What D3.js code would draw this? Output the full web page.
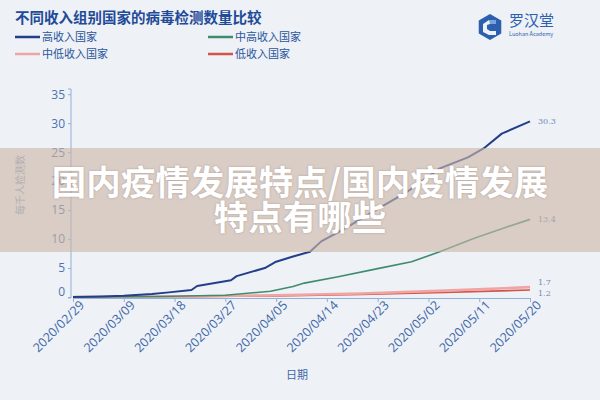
<!DOCTYPE html>
<html><head><meta charset="utf-8">
<script src="https://cdn.jsdelivr.net/npm/d3@7"></script>
<style>
body{margin:0;background:#eef1f6;}
svg{display:block;font-family:"Noto Sans CJK SC","Noto Sans",sans-serif;}
</style></head><body>
<svg id="c" width="600" height="400"></svg>
<script>
const title = "不同收入组别国家的病毒检测数量比较";
const seriesNames = ["高收入国家","中高收入国家","中低收入国家","低收入国家"];
const seriesColors = ["#233f8a","#3f8c6c","#f0a5a5","#d4534a"];
const xTickLabels = ["2020/02/29","2020/03/09","2020/03/18","2020/03/27","2020/04/05","2020/04/14","2020/04/23","2020/05/02","2020/05/11","2020/05/20"];
const yTicks = [0,5,10,15,20,25,30,35];
const highIncome = [["2020-02-29",0.0],["2020-03-05",0.1],["2020-03-09",0.2],["2020-03-14",0.5],["2020-03-17",0.8],["2020-03-21",1.2],["2020-03-22",1.9],["2020-03-28",2.9],["2020-03-29",3.6],["2020-04-03",5.0],["2020-04-05",6.1],["2020-04-08",7.0],["2020-04-11",7.8],["2020-04-13",9.6],["2020-04-17",11.7],["2020-04-23",15.2],["2020-04-28",18.0],["2020-05-04",22.2],["2020-05-09",24.1],["2020-05-12",25.8],["2020-05-15",28.2],["2020-05-20",30.3]];
const upperMiddle = [["2020-02-29",0.0],["2020-03-15",0.1],["2020-03-27",0.3],["2020-04-04",1.0],["2020-04-08",1.8],["2020-04-10",2.4],["2020-04-16",3.5],["2020-04-23",4.9],["2020-04-29",6.1],["2020-05-04",7.8],["2020-05-10",10.1],["2020-05-15",11.8],["2020-05-20",13.4]];
const lowerMiddle = [["2020-02-29",0.0],["2020-03-20",0.1],["2020-04-05",0.3],["2020-04-20",0.6],["2020-05-05",1.1],["2020-05-20",1.7]];
const lowIncome = [["2020-02-29",0.0],["2020-03-20",0.05],["2020-04-05",0.2],["2020-04-20",0.45],["2020-05-05",0.8],["2020-05-20",1.2]];
const endLabels = ["30.3","13.4","1.7","1.2"];
const bannerLines = ["国内疫情发展特点/国内疫情发展","特点有哪些"];
const yTitle = "每千人检测数";
const xTitle = "日期";

const svg = d3.select("#c");
const parse = d3.timeParse("%Y-%m-%d");
const parseTick = d3.timeParse("%Y/%m/%d");
const x = d3.scaleTime().domain([parse("2020-02-29"), parse("2020-05-20")]).range([73,530]);
const y = d3.scaleLinear().domain([-0.17, 35.9]).range([298, 89]);

// title
svg.append("text").attr("x",15).attr("y",23).attr("font-size",14.5).attr("font-weight","bold")
  .attr("fill","#1f4b99").text(title);
// legend
const legPos = [[15,37],[208,37],[15,54],[208,54]];
seriesNames.forEach((n,i)=>{
  const [lx,ly]=legPos[i];
  svg.append("line").attr("x1",lx).attr("x2",lx+25).attr("y1",ly).attr("y2",ly)
    .attr("stroke",seriesColors[i]).attr("stroke-width",2.5);
  svg.append("text").attr("x",lx+27).attr("y",ly+4).attr("font-size",11)
    .attr("fill","#2a569c").text(n);
});
// logo
const lg = svg.append("g").attr("transform","translate(490,27)");
const hex = d3.range(6).map(k=>{const a=Math.PI/3*k+Math.PI/6;return [13*Math.cos(a),13*Math.sin(a)];});
lg.append("path").attr("d","M"+hex.join("L")+"Z").attr("fill","#2c5fae");
lg.append("path").attr("d","M6,-7 L-1,-7 L-7,-3 L-7,5 L-1,8 L6,8 L6,4 L0,4 L-3,2 L-3,-2 L0,-3 L6,-3 Z").attr("fill","#eef1f6");
lg.append("path").attr("d","M-1,-7 L6,-7 L6,-3 L0,-3 Z").attr("fill","#7aa3dc");
svg.append("text").attr("x",509).attr("y",26).attr("font-size",15).attr("fill","#2c5fae").text("罗汉堂");
svg.append("text").attr("x",509).attr("y",36).attr("font-size",5.5).attr("fill","#2c5fae").text("Luohan Academy");

// axes
const axisColor = "#8fb0da";
const yAxis = svg.append("g").attr("transform","translate(71,0)")
  .call(d3.axisLeft(y).tickValues(yTicks).tickSize(3).tickPadding(3));
yAxis.select(".domain").attr("stroke",axisColor).attr("d","M-3,89H0V298H-3");
yAxis.selectAll(".tick line").attr("stroke",axisColor);
yAxis.selectAll(".tick text").attr("fill","#4a74b0").attr("font-size",12)
  .attr("font-family","'Open Sans',sans-serif")
  .attr("dy",(d)=> d===0 ? "-0.1em" : "0.32em");

const xAxis = svg.append("g").attr("transform","translate(0,298)")
  .call(d3.axisBottom(x).tickValues(xTickLabels.map(parseTick)).tickFormat(d3.timeFormat("%Y/%m/%d")).tickSize(4).tickPadding(3));
xAxis.select(".domain").attr("stroke",axisColor);
xAxis.selectAll(".tick line").attr("stroke",axisColor);
xAxis.selectAll(".tick text").attr("fill","#3d67a8").attr("font-size",12.5)
  .attr("font-family","'Open Sans',sans-serif")
  .attr("text-anchor","end").attr("dx","0.2em").attr("dy","0.55em")
  .attr("transform","rotate(-45)");

svg.append("text").attr("x",297).attr("y",379).attr("text-anchor","middle").attr("font-size",11)
  .attr("fill","#3d67a8").text(xTitle);
svg.append("text").attr("transform","translate(24,185) rotate(-90)").attr("text-anchor","middle")
  .attr("font-size",10).attr("fill","#8aa0c4").text(yTitle);

// lines
const line = d3.line().x(d=>x(parse(d[0]))).y(d=>y(d[1]));
const all = [highIncome, upperMiddle, lowerMiddle, lowIncome];
const widths = [2,1.6,2.6,1.6];
[3,2,1,0].forEach(i=>{
  svg.append("path").datum(all[i]).attr("d",line).attr("fill","none")
    .attr("stroke",seriesColors[i]).attr("stroke-width",widths[i]).attr("stroke-linejoin","round");
});
const labOff = [3,3,-2,6];
all.forEach((s,i)=>{
  const last = s[s.length-1];
  svg.append("text").attr("x",x(parse(last[0]))+8).attr("y",y(last[1])+labOff[i])
    .attr("font-size",8).attr("fill","#7088b4").attr("font-family","'DejaVu Serif',serif").text(endLabels[i]);
});

// banner overlay
svg.append("rect").attr("x",0).attr("y",148).attr("width",600).attr("height",104)
  .attr("fill","rgba(203,182,168,0.62)");
bannerLines.forEach((t,i)=>{
  svg.append("text").attr("x",300).attr("y",183+i*35).attr("dy","0.35em").attr("text-anchor","middle")
    .attr("font-size",34.5).attr("font-weight","bold").attr("fill","#ffffff")
    .style("text-shadow","0 0 2px rgba(120,100,90,0.5)").text(t);
});
</script>
</body></html>
